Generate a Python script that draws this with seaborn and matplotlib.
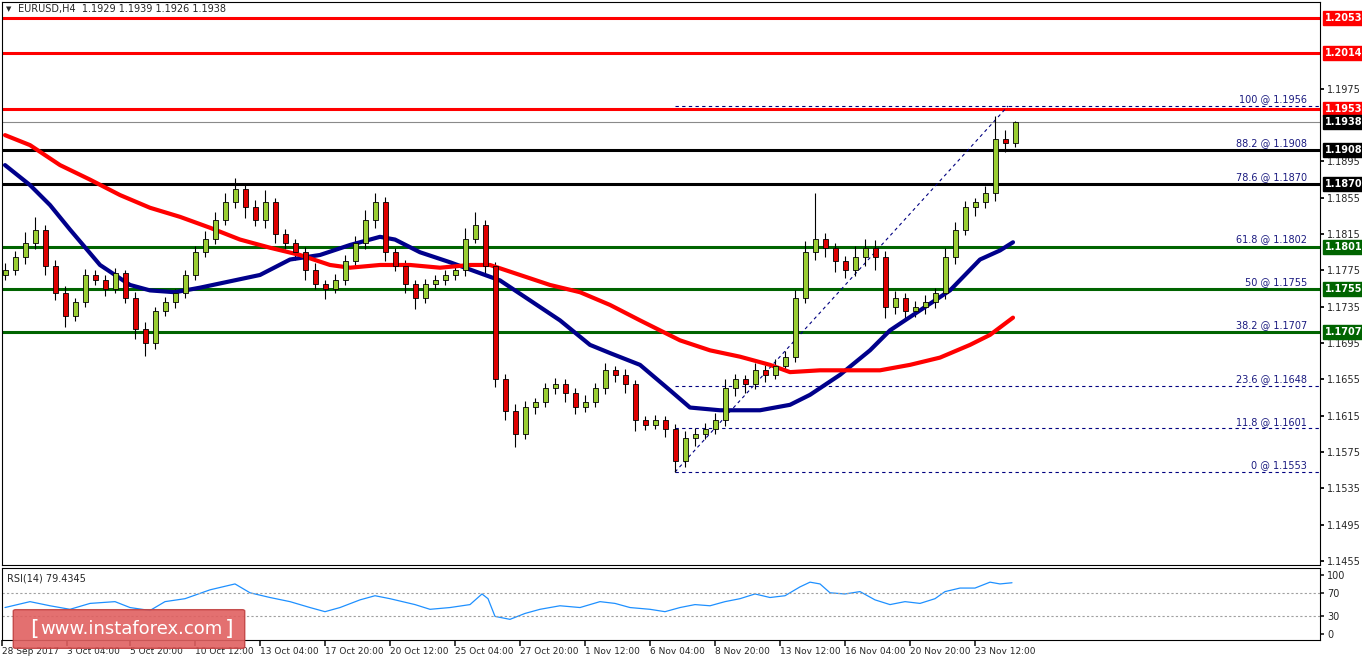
import matplotlib
matplotlib.use("Agg")
import matplotlib.pyplot as plt
import seaborn as sns
import pandas as pd
import numpy as np
from matplotlib.patches import FancyBboxPatch

sns.set_theme(style="white")
plt.rcParams['font.family'] = ['DejaVu Sans']

# 8h-ish candles (index 0 = left edge)
closes = [1.1775, 1.1790, 1.1805, 1.1820, 1.1780, 1.1750, 1.1725, 1.1740, 1.1770, 1.1765,
          1.1755, 1.1772, 1.1745, 1.1710, 1.1695, 1.1730, 1.1740, 1.1750, 1.1770, 1.1795,
          1.1810, 1.1830, 1.1850, 1.1865, 1.1845, 1.1830, 1.1850, 1.1815, 1.1805, 1.1795,
          1.1775, 1.1760, 1.1755, 1.1765, 1.1785, 1.1805, 1.1830, 1.1850, 1.1795, 1.1780,
          1.1760, 1.1745, 1.1760, 1.1765, 1.1770, 1.1775, 1.1810, 1.1825, 1.1780, 1.1655,
          1.1620, 1.1595, 1.1625, 1.1630, 1.1645, 1.1650, 1.1640, 1.1625, 1.1630, 1.1645,
          1.1665, 1.1660, 1.1650, 1.1610, 1.1605, 1.1610, 1.1600, 1.1565, 1.1590, 1.1595,
          1.1600, 1.1610, 1.1645, 1.1655, 1.1650, 1.1665, 1.1660, 1.1670, 1.1680, 1.1745,
          1.1795, 1.1810, 1.1800, 1.1785, 1.1775, 1.1790, 1.1800, 1.1790, 1.1735, 1.1745,
          1.1730, 1.1735, 1.1740, 1.1750, 1.1790, 1.1820, 1.1845, 1.1850, 1.1860, 1.1920,
          1.1915, 1.1938]
open0 = 1.1770
wick_up = [8, 6, 12, 14, 5, 6, 8, 5, 7, 6, 5, 6, 4, 6, 8, 5, 6, 5, 6, 7,
           8, 9, 10, 12, 6, 8, 14, 5, 6, 5, 6, 8, 5, 6, 7, 8, 12, 10, 6, 5,
           6, 5, 6, 5, 5, 6, 12, 14, 5, 4, 6, 8, 6, 5, 6, 7, 5, 6, 8, 6,
           8, 5, 6, 4, 5, 6, 5, 6, 8, 6, 7, 8, 10, 6, 5, 8, 6, 7, 6, 8,
           12, 50, 6, 5, 6, 12, 10, 8, 6, 7, 5, 6, 8, 6, 10, 8, 6, 5, 8, 25,
           10, 2]
wick_dn = [6, 5, 8, 6, 10, 8, 12, 6, 5, 6, 8, 5, 6, 10, 14, 6, 5, 6, 5, 6,
           5, 6, 5, 6, 12, 6, 8, 10, 6, 8, 10, 6, 12, 5, 6, 5, 6, 8, 10, 6,
           10, 12, 6, 5, 6, 5, 6, 5, 10, 8, 10, 15, 6, 8, 5, 6, 10, 8, 6, 5,
           6, 8, 10, 12, 6, 5, 8, 12, 6, 8, 6, 5, 6, 8, 10, 6, 8, 5, 6, 6,
           6, 8, 10, 12, 8, 6, 10, 14, 12, 8, 10, 6, 8, 6, 6, 8, 6, 10, 6, 8,
           10, 4]

ma_fast_idx = [0, 2.5, 4.5, 6.5, 9.5, 12.5, 14.5, 17, 19.5, 25.5, 28.5, 31.5, 34.5, 37.5, 39,
               41.5, 44.5, 49.5, 52.5, 55.5, 58.5, 60.5, 63.5, 66.5, 68.5, 71.5, 75.5, 78.5,
               80.5, 83.5, 86.5, 88.5, 91.5, 94.5, 97.5, 99.5, 100.8]
ma_fast = [1.1891, 1.1869, 1.1847, 1.1820, 1.1781, 1.1759, 1.1753, 1.1751, 1.1756, 1.1770,
           1.1787, 1.1792, 1.1803, 1.1812, 1.1809, 1.1795, 1.1784, 1.1764, 1.1742, 1.1720,
           1.1693, 1.1684, 1.1671, 1.1643, 1.1624, 1.1621, 1.1621, 1.1627, 1.1638, 1.1660,
           1.1687, 1.1709, 1.1731, 1.1753, 1.1787, 1.1797, 1.1806]
ma_slow_idx = [0, 2.5, 5.5, 8.5, 11.5, 14.5, 17.5, 20.5, 23.5, 26.5, 29.5, 32.5, 34.5, 37.5,
               40.5, 43.5, 46.5, 48.5, 51.5, 54.5, 57.5, 60.5, 63.5, 67.5, 70.5, 73.5, 76.5,
               78.5, 81.5, 84.5, 87.5, 90.5, 93.5, 96.5, 98.5, 100.8]
ma_slow = [1.1924, 1.1913, 1.1891, 1.1875, 1.1858, 1.1844, 1.1834, 1.1822, 1.1809, 1.1800,
           1.1792, 1.1781, 1.1778, 1.1781, 1.1781, 1.1778, 1.1781, 1.1781, 1.1770, 1.1759,
           1.1751, 1.1737, 1.1720, 1.1698, 1.1687, 1.1680, 1.1671, 1.1663, 1.1665, 1.1665,
           1.1665, 1.1671, 1.1679, 1.1693, 1.1704, 1.1723]

rsi_idx = [0, 2.5, 4.5, 6.5, 8.5, 11, 12.5, 14.5, 16, 18, 20.5, 23, 24.5, 26.5, 28.5, 30.5,
           32, 33.5, 35.5, 37, 38.5, 41, 42.5, 44.5, 46.5, 47.7, 48.3, 49, 50.5, 52, 53.5,
           55.5, 57.5, 59.5, 61, 62.5, 64.5, 66, 67.5, 69, 70.5, 72, 73.5, 75, 76.5, 78, 79.5,
           80.5, 81.5, 82.5, 84, 85.5, 87, 88.5, 90, 91.5, 93, 94, 95.5, 97, 98.5, 99.5, 100.7]
rsi = [45, 55, 48, 42, 52, 55, 45, 40, 55, 60, 75, 85, 70, 62, 55, 45, 38, 45, 58, 65, 60,
       50, 42, 45, 50, 68, 60, 30, 25, 35, 42, 48, 45, 55, 52, 45, 42, 38, 45, 50, 48, 55,
       60, 68, 62, 65, 80, 88, 85, 70, 68, 72, 58, 50, 55, 52, 60, 72, 78, 78, 88, 85, 87]

red_levels = [1.2053, 1.2014, 1.1953]
black_levels = [1.1908, 1.1870]
green_levels = [1.1801, 1.1755, 1.1707]
fib_levels = [1.1956, 1.1908, 1.1870, 1.1802, 1.1755, 1.1707, 1.1648, 1.1601, 1.1553]
fib_names = ["100", "88.2", "78.6", "61.8", "50", "38.2", "23.6", "11.8", "0"]
price_ticks = [1.1975, 1.1895, 1.1855, 1.1815, 1.1775, 1.1735, 1.1695, 1.1655,
               1.1615, 1.1575, 1.1535, 1.1495, 1.1455]
date_idx = [-0.3, 6.2, 12.5, 19, 25.5, 32, 38.5, 45, 51.5, 58, 64.5, 71, 77.5, 84, 90.5, 97]
date_labels = ["28 Sep 2017", "3 Oct 04:00", "5 Oct 20:00", "10 Oct 12:00", "13 Oct 04:00",
               "17 Oct 20:00", "20 Oct 12:00", "25 Oct 04:00", "27 Oct 20:00", "1 Nov 12:00",
               "6 Nov 04:00", "8 Nov 20:00", "13 Nov 12:00", "16 Nov 04:00", "20 Nov 20:00",
               "23 Nov 12:00"]

W, H = 1362, 661
fig = plt.figure(figsize=(W / 100, H / 100), dpi=100)
ax = fig.add_axes([2 / W, 1 - 565 / H, 1318 / W, 563 / H])
ax2 = fig.add_axes([2 / W, 1 - 640 / H, 1318 / W, 72 / H])

df = pd.DataFrame({"i": np.arange(len(closes)), "close": closes})
df["open"] = [open0] + closes[:-1]
df["high"] = df[["open", "close"]].max(axis=1) + np.array(wick_up) * 1e-4
df["low"] = df[["open", "close"]].min(axis=1) - np.array(wick_dn) * 1e-4
up = df["close"] >= df["open"]

# horizontal levels
for lv in red_levels:
    ax.axhline(lv, color="#ff0000", lw=2.2, zorder=2)
for lv in black_levels:
    ax.axhline(lv, color="black", lw=2.2, zorder=2)
for lv in green_levels:
    ax.axhline(lv, color="#006400", lw=2.2, zorder=2)
ax.axhline(1.1938, color="#8a8a8a", lw=0.8, zorder=2)

# fibo
fx0 = 67
for lv, nm in zip(fib_levels, fib_names):
    if nm in ("100", "23.6", "11.8", "0"):
        ax.hlines(lv, fx0, 131.5, color="#000080", lw=0.8, linestyles=(0, (3, 3)), zorder=3)
    ax.text(130.2, lv + 0.0002, f"{nm} @ {lv:.4f}", color="#1a1a80", fontsize=7,
            ha="right", va="bottom", zorder=6)
ax.plot([fx0, 100.3], [1.1553, 1.1956], color="#000080", lw=0.8, ls=(0, (3, 3)), zorder=3)

# candles
ax.vlines(df["i"], df["low"], df["high"], color="black", lw=0.8, zorder=4)
body = (df["close"] - df["open"]).abs().clip(lower=0.00008)
ax.bar(df["i"][up], body[up], bottom=df["open"][up], width=0.5, color="#9acd32",
       edgecolor="black", lw=0.6, zorder=5)
ax.bar(df["i"][~up], body[~up], bottom=df["close"][~up], width=0.5, color="#e00000",
       edgecolor="black", lw=0.6, zorder=5)

sns.lineplot(x=ma_fast_idx, y=ma_fast, ax=ax, color="#00008b", lw=3, zorder=4)
sns.lineplot(x=ma_slow_idx, y=ma_slow, ax=ax, color="#ff0000", lw=3, zorder=4)

ax.set_xlim(-0.3, 131.5)
ax.set_ylim(1.14506, 1.20706)
ax.set_xticks([])
ax.yaxis.tick_right()
ax.set_yticks(price_ticks)
ax.set_yticklabels([f"{t:.4f}" for t in price_ticks], fontsize=7)
ax.tick_params(axis="y", length=3, pad=2, color="black", direction="out", right=True)

def tag(y, txt, bg):
    ax.text(1.004, y, txt, transform=ax.get_yaxis_transform(), fontsize=7, color="white",
            fontweight="bold", va="center", ha="left",
            bbox=dict(boxstyle="square,pad=0.2", fc=bg, ec=bg))

for lv in red_levels:
    tag(lv, f"{lv:.4f}", "#ff0000")
tag(1.1938, "1.1938", "black")
for lv in black_levels:
    tag(lv, f"{lv:.4f}", "black")
for lv in green_levels:
    tag(lv, f"{lv:.4f}", "#006400")

fig.text(6 / W, 1 - 9 / H, "\u25bc", fontsize=5, va="center")
fig.text(18 / W, 1 - 9 / H, "EURUSD,H4  1.1929 1.1939 1.1926 1.1938", fontsize=7, va="center")

# RSI
sns.lineplot(x=rsi_idx, y=rsi, ax=ax2, color="#1e90ff", lw=0.9)
for lv in (70, 30):
    ax2.axhline(lv, color="#a0a0a0", lw=0.8, ls=(0, (2, 2)))
ax2.set_xlim(-0.3, 131.5)
ax2.set_ylim(-10, 112)
ax2.yaxis.tick_right()
ax2.set_yticks([100, 70, 30, 0])
ax2.set_yticklabels(["100", "70", "30", "0"], fontsize=7)
ax2.tick_params(axis="y", length=3, pad=2, right=True)
ax2.set_xticks(date_idx)
ax2.set_xticklabels(date_labels, fontsize=6.5, ha="left")
ax2.tick_params(axis="x", length=4, pad=1, bottom=True)
ax2.text(0.004, 0.93, "RSI(14) 79.4345", transform=ax2.transAxes, fontsize=7, va="top")

for a in (ax, ax2):
    for s in a.spines.values():
        s.set_color("black")
        s.set_linewidth(0.8)

# watermark
box = FancyBboxPatch((16 / W, 1 - 647 / H), 226 / W, 36 / H, boxstyle="round,pad=0.002",
                     transform=fig.transFigure, fc="#e06060", ec="#c04040", alpha=0.9, zorder=10)
fig.patches.append(box)
fig.text(34 / W, 1 - 629 / H, "[", color="white", fontsize=16, ha="center", va="center", zorder=11)
fig.text(229 / W, 1 - 629 / H, "]", color="white", fontsize=16, ha="center", va="center", zorder=11)
fig.text(131 / W, 1 - 629 / H, "www.instaforex.com", color="white", fontsize=13,
         ha="center", va="center", zorder=11)

fig.savefig("out.png", dpi=100)
